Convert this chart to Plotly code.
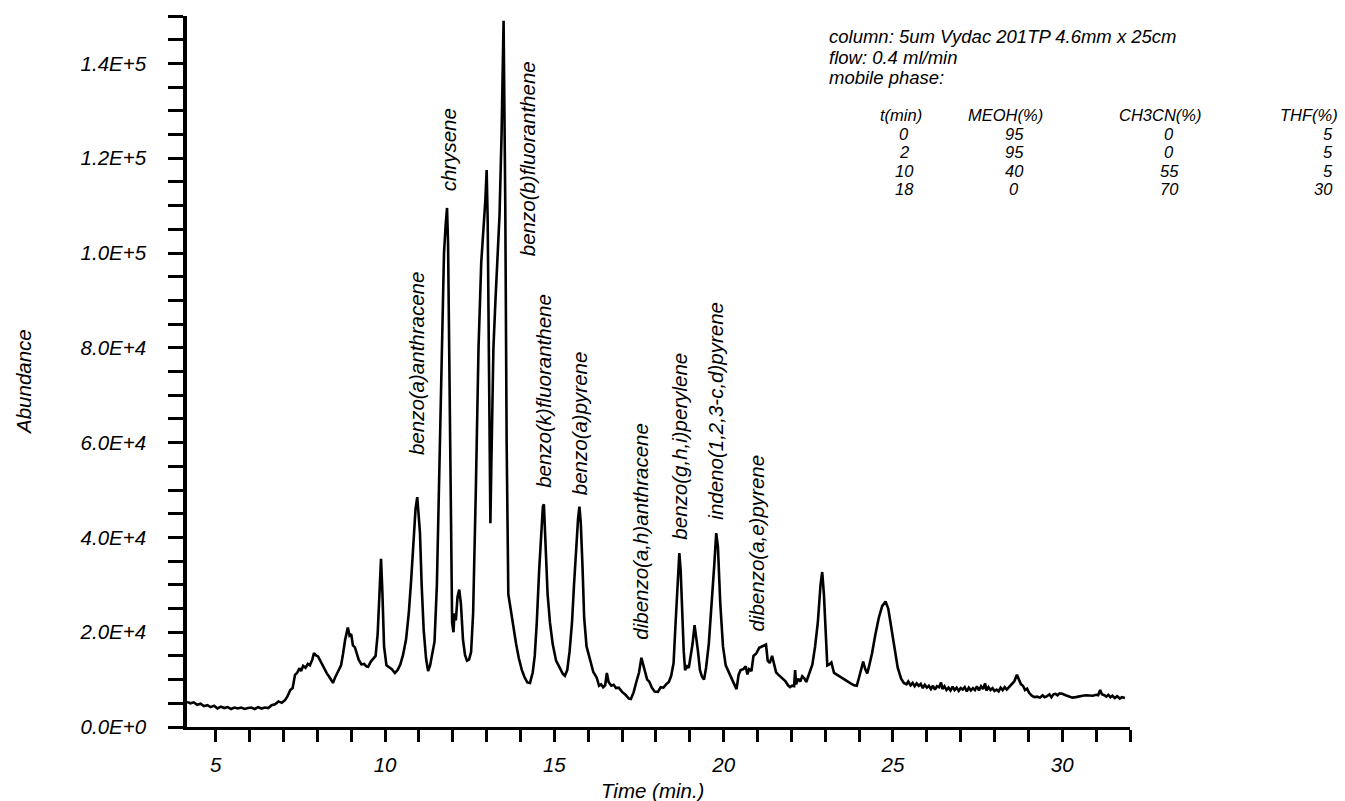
import plotly.graph_objects as go

# ---------------- data ----------------
time_min = [
    4.15, 4.25, 4.35, 4.45, 4.55, 4.65, 4.75, 4.85, 4.95, 5.05, 5.15, 5.25, 5.35, 5.45, 5.55,
    5.65, 5.75, 5.85, 5.95, 6.05, 6.15, 6.25, 6.35, 6.45, 6.55, 6.65, 6.75, 6.85, 6.95, 7.05,
    7.12, 7.20, 7.27, 7.34, 7.40, 7.47, 7.52, 7.58, 7.65, 7.72, 7.78, 7.85, 7.90, 7.96, 8.02,
    8.08, 8.15, 8.22, 8.28, 8.35, 8.42, 8.46, 8.52, 8.58, 8.64, 8.70, 8.76, 8.82, 8.90, 8.95,
    9.00, 9.05, 9.11, 9.17, 9.22, 9.30, 9.38, 9.45, 9.50, 9.58, 9.65, 9.72, 9.78, 9.84, 9.88,
    9.92, 9.97, 10.04, 10.12, 10.20, 10.29, 10.37, 10.45, 10.53, 10.62, 10.70, 10.77, 10.84, 10.90, 10.95,
    10.99, 11.03, 11.08, 11.14, 11.21, 11.27, 11.33, 11.40, 11.46, 11.53, 11.60, 11.68, 11.74, 11.79, 11.83,
    11.86, 11.90, 11.94, 11.98, 12.02, 12.05, 12.09, 12.14, 12.19, 12.24, 12.30, 12.36, 12.42, 12.48, 12.54,
    12.60, 12.68, 12.76, 12.84, 12.90, 12.96, 13.00, 13.03, 13.07, 13.11, 13.14, 13.20, 13.26, 13.32, 13.38,
    13.44, 13.50, 13.55, 13.59, 13.64, 13.70, 13.78, 13.87, 13.95, 14.04, 14.12, 14.20, 14.28, 14.36, 14.42,
    14.48, 14.55, 14.61, 14.66, 14.69, 14.72, 14.75, 14.80, 14.87, 14.95, 15.05, 15.15, 15.25, 15.31, 15.38,
    15.45, 15.52, 15.58, 15.64, 15.70, 15.74, 15.78, 15.83, 15.88, 15.95, 16.05, 16.15, 16.25, 16.32, 16.38,
    16.44, 16.50, 16.55, 16.60, 16.68, 16.75, 16.82, 16.90, 17.00, 17.10, 17.20, 17.26, 17.34, 17.42, 17.50,
    17.57, 17.63, 17.68, 17.74, 17.80, 17.88, 17.96, 18.06, 18.14, 18.22, 18.30, 18.38, 18.45, 18.52, 18.58,
    18.64, 18.69, 18.73, 18.77, 18.82, 18.86, 18.92, 18.97, 19.02, 19.08, 19.14, 19.19, 19.24, 19.30, 19.36,
    19.42, 19.48, 19.56, 19.64, 19.72, 19.78, 19.83, 19.90, 19.98, 20.06, 20.14, 20.22, 20.30, 20.38, 20.44,
    20.50, 20.58, 20.65, 20.70, 20.75, 20.82, 20.88, 20.96, 21.05, 21.15, 21.25, 21.30, 21.36, 21.43, 21.50,
    21.55, 21.62, 21.72, 21.82, 21.90, 21.96, 22.02, 22.08, 22.11, 22.14, 22.20, 22.26, 22.32, 22.38, 22.44,
    22.50, 22.56, 22.62, 22.70, 22.78, 22.86, 22.91, 22.96, 23.02, 23.06, 23.12, 23.18, 23.26, 23.35, 23.45,
    23.55, 23.65, 23.75, 23.85, 23.93, 24.00, 24.06, 24.12, 24.18, 24.24, 24.30, 24.38, 24.48, 24.58, 24.68,
    24.78, 24.86, 24.95, 25.05, 25.14, 25.24, 25.32, 25.40, 25.45, 25.52, 25.58, 25.64, 25.70, 25.76, 25.82,
    25.88, 25.94, 26.00, 26.06, 26.12, 26.18, 26.24, 26.30, 26.36, 26.42, 26.46, 26.52, 26.58, 26.64, 26.70,
    26.76, 26.82, 26.88, 26.94, 27.00, 27.06, 27.12, 27.18, 27.24, 27.30, 27.36, 27.42, 27.48, 27.54, 27.60,
    27.66, 27.72, 27.76, 27.82, 27.88, 27.94, 28.00, 28.06, 28.12, 28.18, 28.24, 28.30, 28.36, 28.42, 28.50,
    28.58, 28.66, 28.72, 28.78, 28.84, 28.90, 28.96, 29.02, 29.10, 29.18, 29.26, 29.34, 29.42, 29.48, 29.55,
    29.62, 29.68, 29.74, 29.80, 29.86, 29.92, 30.00, 30.10, 30.20, 30.30, 30.40, 30.50, 30.60, 30.70, 30.80,
    30.90, 31.00, 31.06, 31.12, 31.17, 31.24, 31.30, 31.36, 31.42, 31.48, 31.55, 31.62, 31.70, 31.76, 31.85,
]

abundance = [
    5300, 5000, 5200, 4700, 4900, 4400, 4600, 4200, 4500, 3900, 4300, 4000, 4200, 3800, 4100,
    3900, 4100, 3800, 4000, 4100, 3800, 4200, 3900, 4100, 4000, 4600, 4800, 5400, 5100, 5700,
    6500, 7800, 8200, 11000, 11400, 12400, 11800, 12900, 12500, 13300, 13000, 14200, 15600, 15100, 14900,
    14100, 13000, 12000, 11300, 10600, 9800, 9300, 10400, 11200, 12300, 13000, 15500, 18400, 21000, 19300,
    19600, 17200, 16800, 15500, 14200, 13200, 13300, 12800, 12700, 13800, 14400, 15000, 19500, 29000, 35500,
    28500, 17000, 13000, 12600, 12200, 11400, 12000, 13200, 15200, 18500, 24000, 31000, 40000, 46000, 48500,
    45000, 41000, 30000, 20500, 14500, 11800, 13000, 15500, 18000, 30000, 55000, 85000, 100000, 106000, 109500,
    102000, 72000, 42000, 22000, 20000, 24000, 22500, 27500, 29000, 26000, 18500, 15200, 14000, 14200, 15800,
    24000, 50000, 80000, 98000, 104000, 111000, 117500, 107000, 75000, 43000, 56000, 80000, 90000, 100000, 108000,
    125000, 149000, 110000, 60000, 28000, 25000, 21500, 17500, 14500, 12000, 10500, 9400, 9300, 11500, 15000,
    22000, 33000, 42000, 46500, 47000, 42000, 35000, 28000, 22000, 17500, 14000, 12500, 11200, 10800, 12000,
    16000, 22000, 30000, 38000, 44000, 46500, 43000, 34000, 23000, 17000, 14000, 11600, 10400, 8700, 9000,
    8400, 8800, 11400, 9500, 8700, 8900, 8200, 8300, 7400, 6800, 6000, 5900, 7300, 9500, 11500,
    14600, 12800, 11400, 10000, 9600, 8300, 7500, 7400, 8400, 8300, 9000, 9500, 10800, 13500, 22000,
    32000, 36700, 33000, 25000, 16000, 12000, 12800, 12500, 14600, 17500, 21500, 19000, 16000, 12000, 10600,
    10000, 12500, 17500, 25000, 34000, 40900, 38000, 26000, 17000, 13000, 11600, 10200, 9200, 8000, 11000,
    12000, 12200, 12800, 11100, 12200, 11800, 15000, 15500, 16700, 17100, 17400, 14000, 13500, 15000, 13000,
    11500, 11000, 10400, 9700, 8800, 8400, 8700, 8600, 12000, 9000, 10200, 9600, 10700, 10300, 9500,
    10600, 12000, 13200, 17000, 22000, 30000, 32700, 28000, 18000, 13000, 13200, 13600, 11400, 11000, 10400,
    10000, 9500, 9200, 8800, 8700, 10500, 12500, 13800, 12200, 11300, 13000, 15500, 19500, 23000, 25500,
    26500, 25000, 21000, 16000, 12500, 10200, 9300, 9000, 9600, 8800, 9300, 8600, 9200, 8700, 9100,
    8200, 8900, 8300, 8700, 8000, 8700, 7900, 8600, 8400, 9400, 8000, 8600, 7800, 8300, 7700,
    8500, 7800, 8300, 7600, 8200, 7900, 8400, 7500, 8300, 7700, 8200, 7800, 8600, 7700, 8600,
    8000, 9200, 7700, 8400, 7800, 8200, 7600, 7900, 7500, 8300, 7800, 8400, 7900, 8400, 9000,
    9600, 11000, 10000, 9000, 8700, 7800, 8100, 7200, 6600, 6300, 6400, 6200, 6700, 6300, 6500,
    6900, 6300, 6900, 7000, 6700, 7100, 7000, 6700, 6400, 6200, 6300, 6500, 6600, 6700, 6700,
    6600, 6800, 6700, 7800, 6900, 6700, 6400, 6800, 6300, 6600, 6100, 6500, 6000, 6300, 6100,
]

peak_names = [
    "benzo(a)anthracene", "chrysene", "benzo(b)fluoranthene", "benzo(k)fluoranthene",
    "benzo(a)pyrene", "dibenzo(a,h)anthracene", "benzo(g,h,i)perylene",
    "indeno(1,2,3-c,d)pyrene", "dibenzo(a,e)pyrene",
]
peak_label_time = [10.95, 11.86, 14.19, 14.66, 15.73, 17.56, 18.71, 19.77, 20.98]
peak_label_base = [57000, 112500, 99000, 50000, 48500, 17900, 39000, 43300, 19800]

y_tick_vals = list(range(0, 150001, 5000))
y_major_labels = ["0.0E+0", "2.0E+4", "4.0E+4", "6.0E+4", "8.0E+4", "1.0E+5", "1.2E+5", "1.4E+5"]
x_tick_vals = list(range(5, 33))
x_major_labels = ["5", "10", "15", "20", "25", "30"]

info_lines = ["column: 5um Vydac 201TP 4.6mm x 25cm", "flow: 0.4 ml/min", "mobile phase:"]
table_header = ["t(min)", "MEOH(%)", "CH3CN(%)", "THF(%)"]
table_rows = [
    ["0", "95", "0", "5"],
    ["2", "95", "0", "5"],
    ["10", "40", "55", "5"],
    ["18", "0", "70", "30"],
]

# ---------------- layout geometry (pixels) ----------------
W, H = 1345, 801
L, R, T, B = 187, 1345 - 1130, 16, 801 - 727
PW, PH = W - L - R, H - T - B


def px(xp):
    return (xp - L) / PW


def py(yp):
    return (H - B - yp) / PH


FONT = "Liberation Sans, Arial, Helvetica, sans-serif"
FS = 20.5   # axis / peak labels
FI = 18.5   # info lines
FT = 16.5   # table


def fnt(size):
    return dict(family=FONT, size=size, color="black", style="italic")


y_tick_text = [y_major_labels[v // 20000] if v % 20000 == 0 else "" for v in y_tick_vals]
x_tick_text = [str(v) if str(v) in x_major_labels else "" for v in x_tick_vals]

fig = go.Figure()
fig.add_trace(go.Scatter(
    x=time_min, y=abundance, mode="lines",
    line=dict(color="black", width=2.6), hoverinfo="skip", showlegend=False,
))

annotations = []
for name, t, b in zip(peak_names, peak_label_time, peak_label_base):
    annotations.append(dict(
        x=t, y=b, xref="x", yref="y", text=name, textangle=-90,
        showarrow=False, xanchor="center", yanchor="bottom", font=fnt(FS),
    ))

for txt, yp in zip(info_lines, [36, 57, 78]):
    annotations.append(dict(
        x=px(828), y=py(yp), xref="paper", yref="paper", text=txt,
        showarrow=False, xanchor="left", yanchor="middle", font=fnt(FI), borderpad=0,
    ))

header_x = [901, 1005, 1160, 1309]
value_x = [904, 1014, 1169, 1334]
value_anchor = ["center", "center", "center", "right"]
for txt, xp in zip(table_header, header_x):
    annotations.append(dict(
        x=px(xp), y=py(115), xref="paper", yref="paper", text=txt,
        showarrow=False, xanchor="center", yanchor="middle", font=fnt(FT), borderpad=0,
    ))
for row, yp in zip(table_rows, [133.5, 152, 170.5, 189]):
    for txt, xp, anc in zip(row, value_x, value_anchor):
        annotations.append(dict(
            x=px(xp), y=py(yp), xref="paper", yref="paper", text=txt,
            showarrow=False, xanchor=anc, yanchor="middle", font=fnt(FT), borderpad=0,
        ))

annotations.append(dict(
    x=px(24), y=py(382), xref="paper", yref="paper", text="Abundance", textangle=-90,
    showarrow=False, xanchor="center", yanchor="middle", font=fnt(FS),
))
annotations.append(dict(
    x=px(652), y=py(790), xref="paper", yref="paper", text="Time (min.)",
    showarrow=False, xanchor="center", yanchor="middle", font=fnt(FS), borderpad=0,
))

fig.update_layout(
    width=W, height=H,
    margin=dict(l=L, r=R, t=T, b=B, pad=0),
    paper_bgcolor="white", plot_bgcolor="white",
    font=fnt(FS),
    showlegend=False,
    annotations=annotations,
    xaxis=dict(
        range=[4.15, 32.0], showgrid=False, zeroline=False,
        showline=True, linecolor="black", linewidth=3,
        ticks="outside", ticklen=12, tickwidth=3, tickcolor="black",
        tickvals=x_tick_vals, ticktext=x_tick_text,
        ticklabelstandoff=5,
        tickfont=fnt(FS), automargin=False, fixedrange=True,
    ),
    yaxis=dict(
        range=[0, 150000], showgrid=False, zeroline=False,
        showline=True, linecolor="black", linewidth=3.5,
        ticks="outside", ticklen=15, tickwidth=3, tickcolor="black",
        tickvals=y_tick_vals, ticktext=y_tick_text,
        ticklabelstandoff=18,
        tickfont=fnt(FS), automargin=False, fixedrange=True,
    ),
)

fig.write_html("out.html")
